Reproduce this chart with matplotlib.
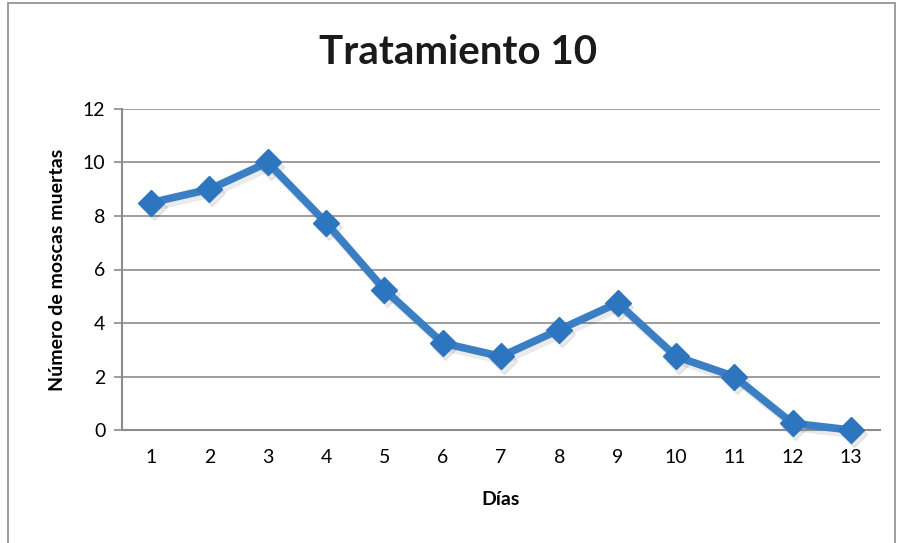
import matplotlib
matplotlib.use("Agg")
import matplotlib.pyplot as plt
from matplotlib.patches import Rectangle
from matplotlib.transforms import ScaledTranslation

plt.rcParams["font.family"] = ["Lato", "DejaVu Sans"]

DIAS = [1, 2, 3, 4, 5, 6, 7, 8, 9, 10, 11, 12, 13]
MUERTAS = [8.5, 9, 10, 7.75, 5.25, 3.25, 2.75, 3.75, 4.75, 2.75, 2, 0.25, 0]
YTICKS = [0, 2, 4, 6, 8, 10, 12]

LINE_COLOR = "#3a7ec4"
GRID_COLOR = "#8c8c8c"

fig = plt.figure(figsize=(8.98, 5.43), dpi=100)
ax = fig.add_axes([122 / 898, 1 - 430 / 543, (880 - 122) / 898, (430 - 109) / 543])

# soft drop shadow under the series, like the Excel original
shadow = ax.transData + ScaledTranslation(2 / 72, -3 / 72, fig.dpi_scale_trans)
ax.plot(DIAS, MUERTAS, color="black", alpha=0.08, linewidth=6, marker="D",
        markersize=13, transform=shadow, zorder=2, clip_on=False)
ax.plot(DIAS, MUERTAS, color=LINE_COLOR, linewidth=5.5, marker="D", markersize=13,
        markerfacecolor="#2e75c0", markeredgecolor="#2e75c0", zorder=3, clip_on=False)

ax.set_xlim(0.5, 13.5)
ax.set_ylim(0, 12)
ax.set_xticks(DIAS)
ax.set_xticklabels([str(d) for d in DIAS])
ax.set_yticks(YTICKS)
ax.yaxis.grid(True, color=GRID_COLOR, linewidth=1.2)
ax.set_axisbelow(True)

for s in ["top", "right"]:
    ax.spines[s].set_visible(False)
for s in ["left", "bottom"]:
    ax.spines[s].set_color(GRID_COLOR)
    ax.spines[s].set_linewidth(1.5)

ax.tick_params(axis="y", length=6, color=GRID_COLOR, width=1.2, labelsize=14, pad=6)
ax.tick_params(axis="x", length=0, labelsize=14, pad=14)

ax.set_xlabel("Días", fontsize=14, fontweight="bold", labelpad=18)
ax.set_ylabel("Número de moscas muertas", fontsize=14, fontweight="bold", labelpad=12)
fig.text(458 / 898, 1 - 52 / 543, "Tratamiento 10", ha="center", va="center",
         fontsize=29, fontweight="bold", color="#1a1a1a")

fig.patches.append(Rectangle((8 / 898, -0.01), 887 / 898, 1 - 3 / 543 + 0.01,
                             transform=fig.transFigure, fill=False,
                             edgecolor="#8c8c8c", linewidth=1.2))

fig.savefig("out.png", dpi=100)
